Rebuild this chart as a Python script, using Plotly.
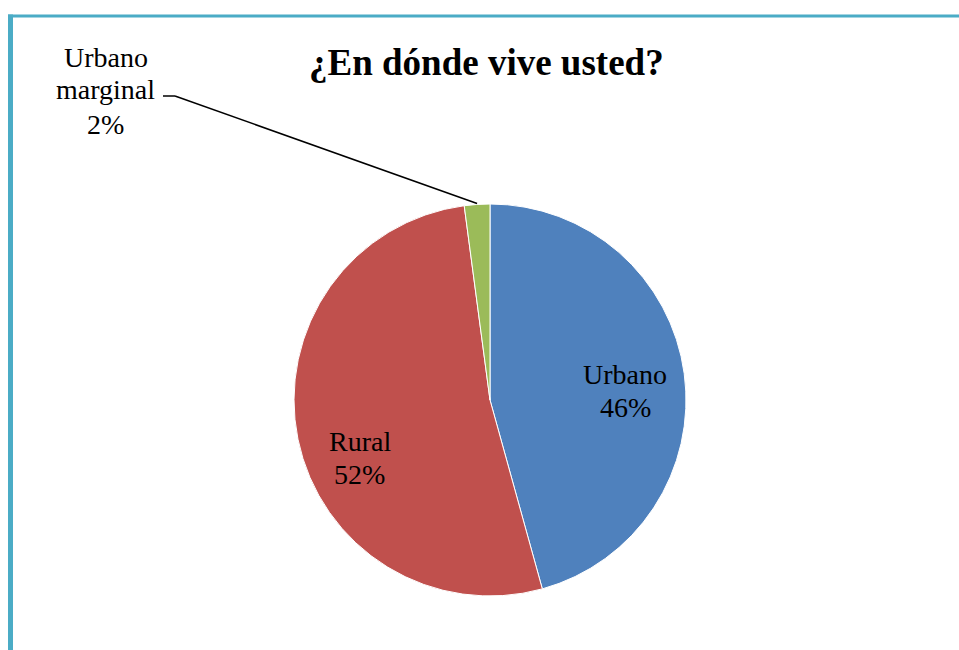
import math
import plotly.graph_objects as go

# Data
categories = ["Urbano", "Rural", "Urbano marginal"]
values = [45.7, 52.2, 2.1]
colors = ["#4F81BD", "#C0504D", "#9BBB59"]
title_text = "¿En dónde vive usted?"

W, H = 959, 650
cx, cy, r = 490, 400, 196

def px(x):
    return x / W

def py(y):
    return 1 - y / H

fig = go.Figure(go.Pie(
    labels=categories,
    values=values,
    sort=False,
    direction="clockwise",
    rotation=0,
    marker=dict(colors=colors, line=dict(color="white", width=1)),
    textinfo="none",
    hoverinfo="label+percent",
    showlegend=False,
    domain=dict(x=[px(cx - r), px(cx + r)], y=[py(cy + r), py(cy - r)]),
))

total = sum(values)
pcts = [round(v / total * 100) for v in values]
font = dict(family="Liberation Serif, Times New Roman, serif", size=28, color="black")

# Label lines: (text, x center px, y center px)
label_lines = [
    (categories[0], 625, 375), (f"{pcts[0]}%", 625, 407),
    (categories[1], 360, 441), (f"{pcts[1]}%", 359, 474),
    ("Urbano", 106, 58), ("marginal", 105, 90), (f"{pcts[2]}%", 105, 124),
]
annotations = []
for t, x, y in label_lines:
    annotations.append(dict(
        x=px(x), y=py(y), xref="paper", yref="paper", text=t, showarrow=False,
        font=font, align="center", xanchor="center", yanchor="middle",
    ))
annotations.append(dict(
    x=px(486), y=py(62), xref="paper", yref="paper", text=f"<b>{title_text}</b>",
    showarrow=False, xanchor="center", yanchor="middle",
    font=dict(family="Liberation Serif, Times New Roman, serif", size=37, color="black"),
))

# Leader line to the small slice (mid-angle at outer edge)
start = values[0] + values[1]
mid = (start + values[2] / 2) / total * 2 * math.pi
ex = cx + r * math.sin(mid)
ey = cy - r * math.cos(mid)

shapes = [
    dict(type="line", xref="paper", yref="paper", x0=px(163), y0=py(96), x1=px(175), y1=py(96),
         line=dict(color="black", width=1.5)),
    dict(type="line", xref="paper", yref="paper", x0=px(175), y0=py(96), x1=px(ex), y1=py(ey - 1),
         line=dict(color="black", width=1.5)),
    # frame lines
    dict(type="line", xref="paper", yref="paper", x0=px(8), y0=py(16), x1=1, y1=py(16),
         line=dict(color="#4BACC6", width=3)),
    dict(type="line", xref="paper", yref="paper", x0=px(10.5), y0=py(14.5), x1=px(10.5), y1=0,
         line=dict(color="#4BACC6", width=5)),
]

fig.update_layout(
    width=W, height=H,
    margin=dict(l=0, r=0, t=0, b=0),
    paper_bgcolor="white", plot_bgcolor="white",
    annotations=annotations, shapes=shapes,
)

fig.write_html("out.html")
